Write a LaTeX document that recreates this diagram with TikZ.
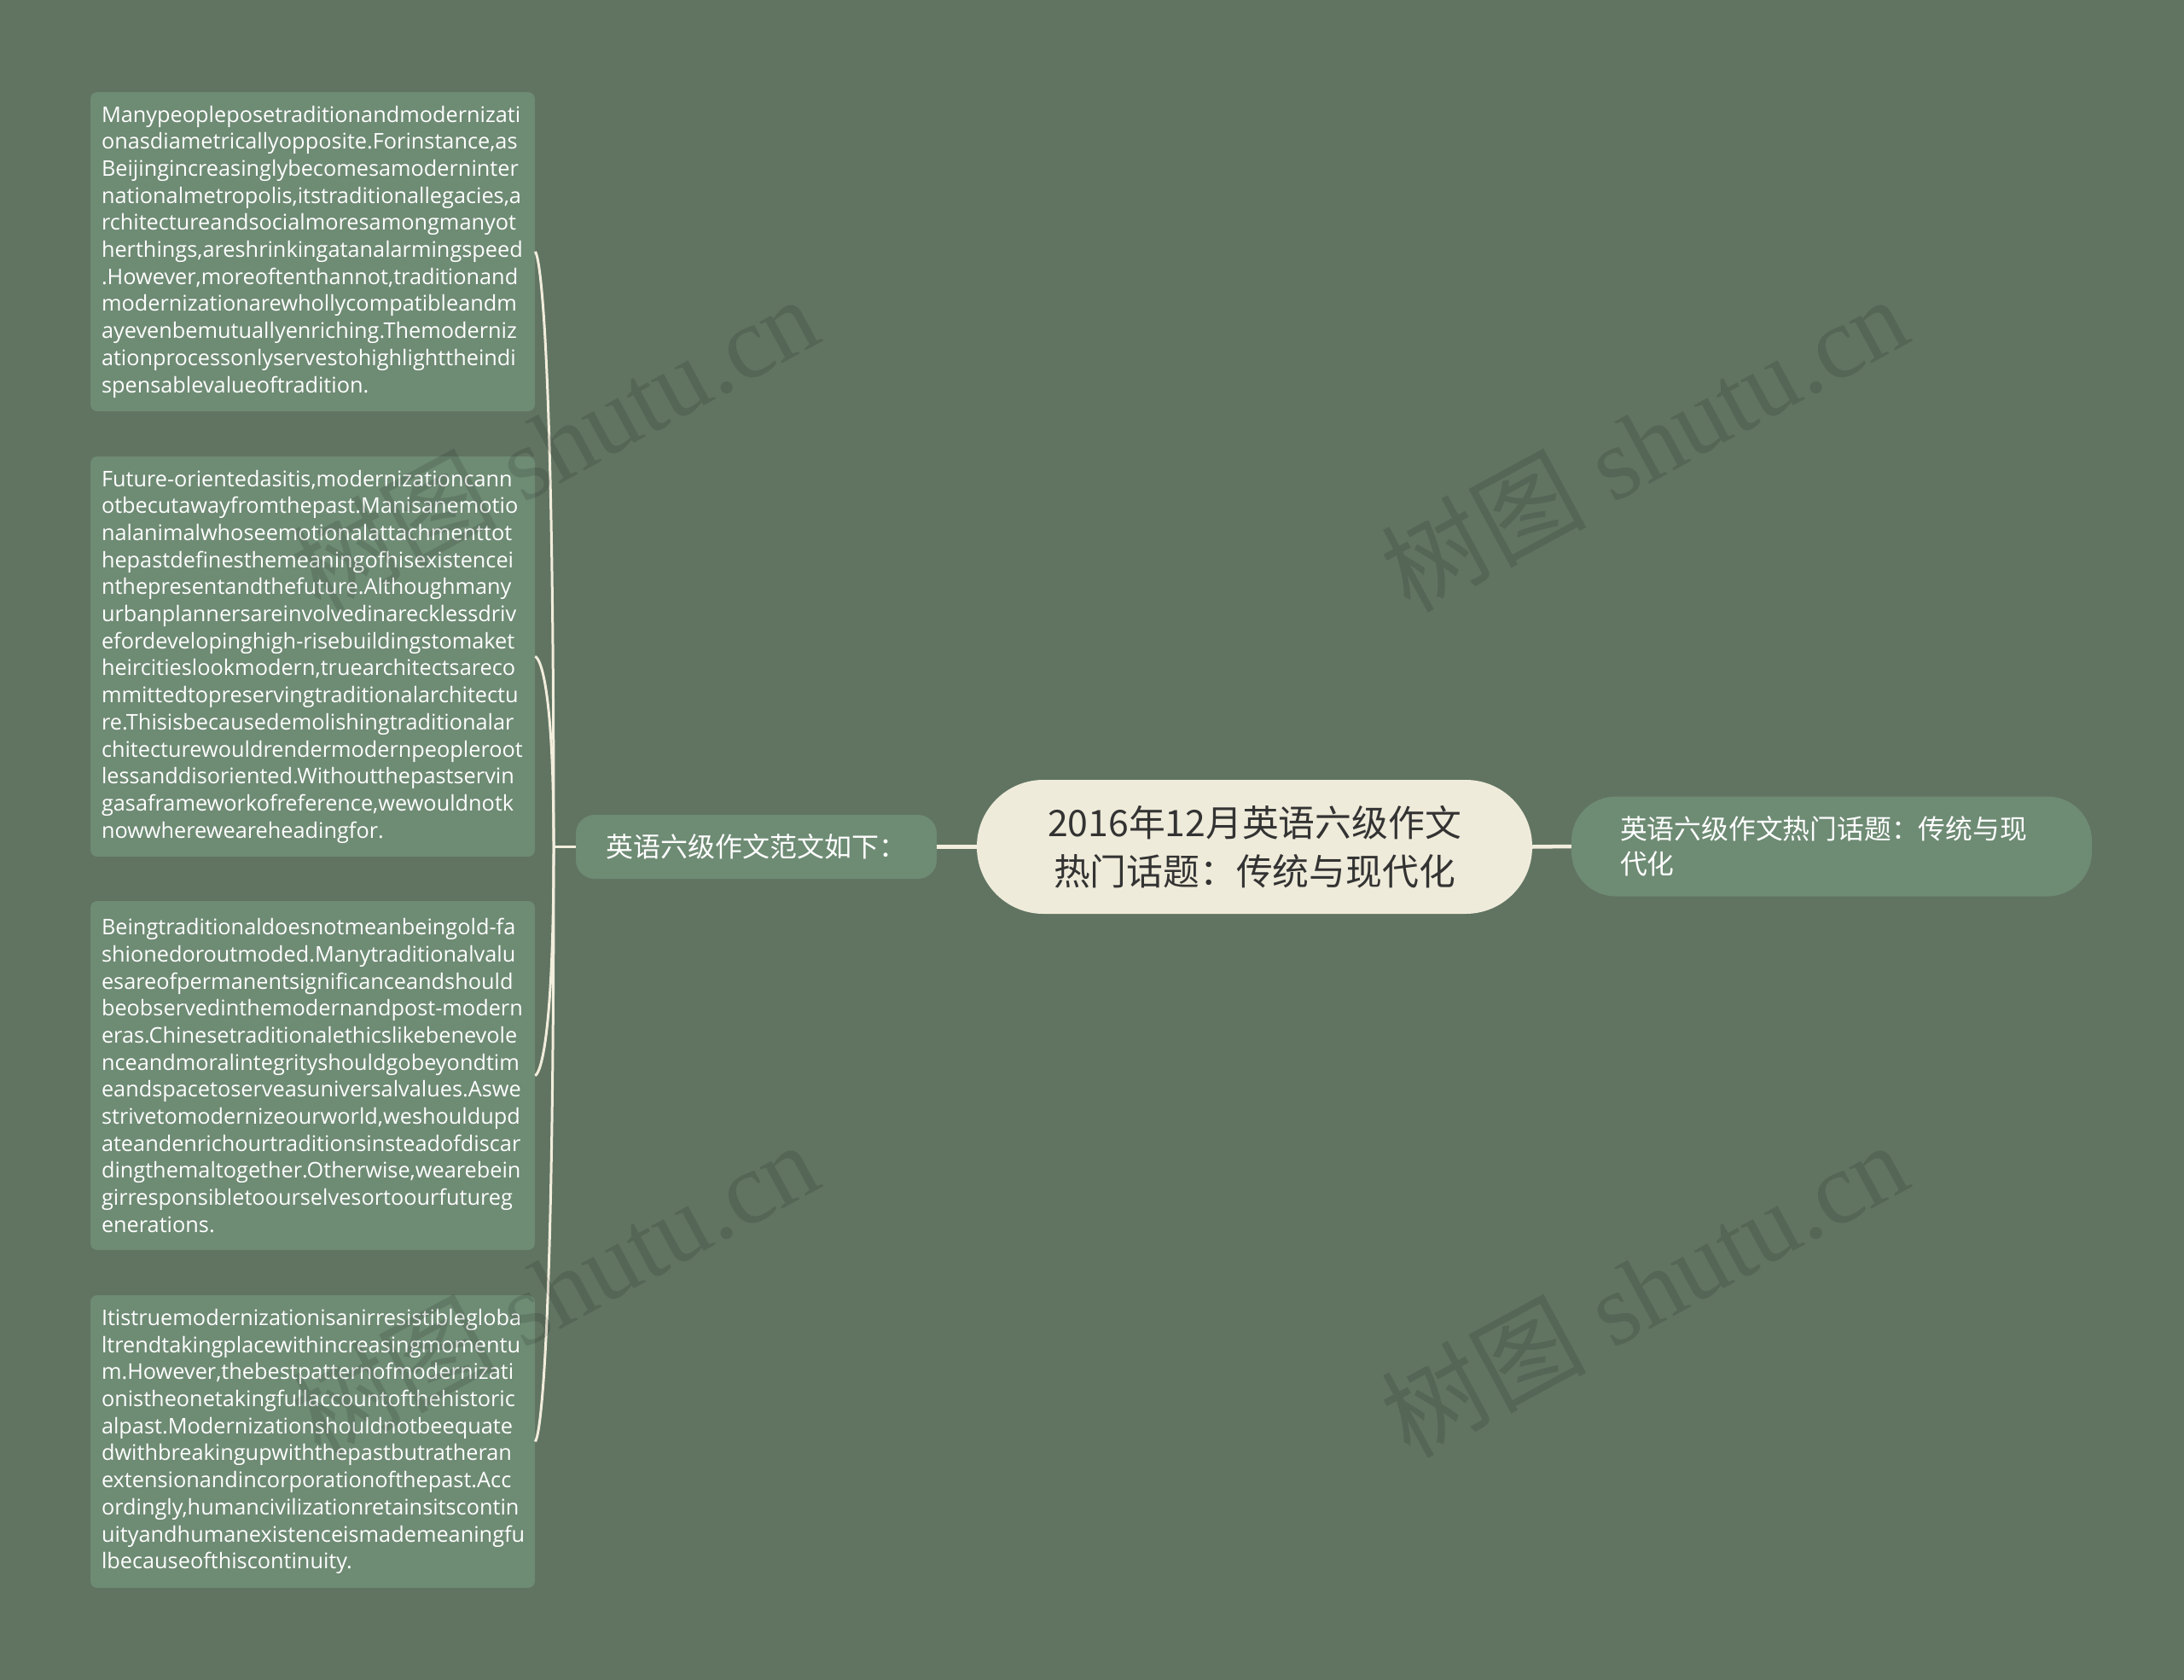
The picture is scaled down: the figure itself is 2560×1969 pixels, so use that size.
\documentclass[tikz,border=0pt]{standalone}
\usepackage{fontspec}
\setmainfont{Open Sans}
\newfontfamily\cjk{Noto Sans CJK SC}
\newfontfamily\wmserif{Liberation Serif}
\definecolor{bgc}{HTML}{617462}
\definecolor{boxc}{HTML}{6E8B74}
\definecolor{creamc}{HTML}{EFEBDA}
\definecolor{linec}{HTML}{F2EDDC}
\definecolor{darktext}{HTML}{333333}
\begin{document}
\begin{tikzpicture}[x=1pt,y=-1pt,
  textbox/.style={fill=boxc, rounded corners=8pt, minimum width=521pt, text width=495pt,
    inner xsep=13pt, inner ysep=0pt, align=left, text=white,
    font=\fontsize{25.3}{31.7}\selectfont,
    execute at begin node={\hyphenpenalty=10000\exhyphenpenalty=10000}},
  rootnode/.style={fill=creamc, rounded corners=78pt, minimum width=651pt, minimum height=157pt,
    align=center, text=darktext, font=\cjk\fontsize{42.8}{57}\selectfont, inner sep=0pt},
  leftnode/.style={fill=boxc, rounded corners=22pt, minimum width=423pt, minimum height=75pt,
    text=white, font=\cjk\fontsize{32}{40}\selectfont, inner sep=0pt},
  rightnode/.style={fill=boxc, rounded corners=52pt, minimum width=610pt, minimum height=117pt,
    text width=496pt, inner xsep=57pt, inner ysep=0pt, align=left, text=white,
    font=\cjk\fontsize{31.8}{41}\selectfont},
  conn/.style={draw=linec, line width=3pt},
  mainconn/.style={draw=linec, line width=4.5pt},
  wm/.style={text=black, text opacity=0.12, font=\wmserif\fontsize{120}{120}\selectfont, inner sep=0pt}
]
\fill[bgc] (0,0) rectangle (2560,1969);
\useasboundingbox (0,0) rectangle (2560,1969);

% nodes
\node[rootnode] (root) at (1470.5,992.5) {2016年12月英语六级作文\\热门话题：传统与现代化};
\node[leftnode] (l) at (886.5,992.5) {英语六级作文范文如下：};
\node[rightnode] (r) at (2147,992) {英语六级作文热门话题：传统与现\\代化};

\node[textbox, minimum height=374pt] (b1) at (366.5,295) {Manypeopleposetraditionandmodernizati\\
onasdiametricallyopposite.Forinstance,as\\
Beijingincreasinglybecomesamoderninter\\
nationalmetropolis,itstraditionallegacies,a\\
rchitectureandsocialmoresamongmanyot\\
herthings,areshrinkingatanalarmingspeed\\
.However,moreoftenthannot,traditionand\\
modernizationarewhollycompatibleandm\\
ayevenbemutuallyenriching.Themoderniz\\
ationprocessonlyservestohighlighttheindi\\
spensablevalueoftradition.};

\node[textbox, minimum height=469pt] (b2) at (366.5,769.5) {Future-orientedasitis,modernizationcann\\
otbecutawayfromthepast.Manisanemotio\\
nalanimalwhoseemotionalattachmenttot\\
hepastdefinesthemeaningofhisexistencei\\
nthepresentandthefuture.Althoughmany\\
urbanplannersareinvolvedinarecklessdriv\\
efordevelopinghigh-risebuildingstomaket\\
heircitieslookmodern,truearchitectsareco\\
mmittedtopreservingtraditionalarchitectu\\
re.Thisisbecausedemolishingtraditionalar\\
chitecturewouldrendermodernpeopleroot\\
lessanddisoriented.Withoutthepastservin\\
gasaframeworkofreference,wewouldnotk\\
nowwhereweareheadingfor.};

\node[textbox, minimum height=409pt] (b3) at (366.5,1260.5) {Beingtraditionaldoesnotmeanbeingold-fa\\
shionedoroutmoded.Manytraditionalvalu\\
esareofpermanentsignificanceandshould\\
beobservedinthemodernandpost-modern\\
eras.Chinesetraditionalethicslikebenevole\\
nceandmoralintegrityshouldgobeyondtim\\
eandspacetoserveasuniversalvalues.Aswe\\
strivetomodernizeourworld,weshouldupd\\
ateandenrichourtraditionsinsteadofdiscar\\
dingthemaltogether.Otherwise,wearebein\\
girresponsibletoourselvesortoourfutureg\\
enerations.};

\node[textbox, minimum height=343pt] (b4) at (366.5,1689.5) {Itistruemodernizationisanirresistiblegloba\\
ltrendtakingplacewithincreasingmomentu\\
m.However,thebestpatternofmodernizati\\
onistheonetakingfullaccountofthehistoric\\
alpast.Modernizationshouldnotbeequate\\
dwithbreakingupwiththepastbutratheran\\
extensionandincorporationofthepast.Acc\\
ordingly,humancivilizationretainsitscontin\\
uityandhumanexistenceismademeaningfu\\
lbecauseofthiscontinuity.};

% connectors
\coordinate (trunk) at (649,992.5);
\draw[mainconn] (root.west) -- (l.east);
\draw[mainconn] (root.east) -- (r.west);
\draw[conn] (l.west) -- (trunk);
\foreach \b in {b1,b2,b3,b4}
  \draw[conn] (trunk) .. controls (trunk |- \b.east) and (\b.east) .. (\b.east);

% watermarks
\node[wm, rotate=28.5] (wm1) at (650,519) {{\cjk 树图} shutu.cn};
\node[wm, rotate=28.5] (wm2) at (1927,519) {{\cjk 树图} shutu.cn};
\node[wm, rotate=28.5] (wm3) at (650,1510) {{\cjk 树图} shutu.cn};
\node[wm, rotate=28.5] (wm4) at (1927,1510) {{\cjk 树图} shutu.cn};
\end{tikzpicture}
\end{document}
